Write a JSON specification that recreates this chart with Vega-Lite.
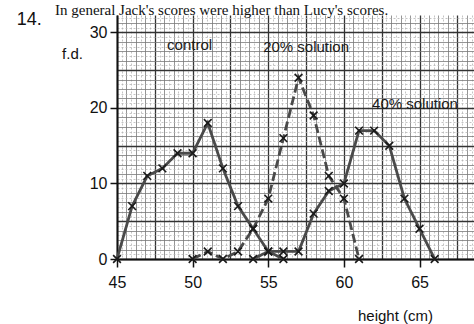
{
  "$schema": "https://vega.github.io/schema/vega-lite/v6.json",
  "width": 357,
  "height": 244,
  "autosize": {"type": "none"},
  "padding": {"left": 117, "top": 15, "right": 0, "bottom": 65},
  "background": "white",
  "config": {
    "view": {"stroke": null},
    "font": "Liberation Sans"
  },
  "datasets": {
    "curves": [
      {"series": "control", "h": 45, "fd": 0},
      {"series": "control", "h": 46, "fd": 7},
      {"series": "control", "h": 47, "fd": 11},
      {"series": "control", "h": 48, "fd": 12},
      {"series": "control", "h": 49, "fd": 14},
      {"series": "control", "h": 50, "fd": 14},
      {"series": "control", "h": 51, "fd": 18},
      {"series": "control", "h": 52, "fd": 12},
      {"series": "control", "h": 53, "fd": 7},
      {"series": "control", "h": 54, "fd": 4},
      {"series": "control", "h": 55, "fd": 1},
      {"series": "control", "h": 56, "fd": 0},
      {"series": "20% solution", "h": 50, "fd": 0},
      {"series": "20% solution", "h": 51, "fd": 1},
      {"series": "20% solution", "h": 52, "fd": 0},
      {"series": "20% solution", "h": 53, "fd": 1},
      {"series": "20% solution", "h": 54, "fd": 4},
      {"series": "20% solution", "h": 55, "fd": 8},
      {"series": "20% solution", "h": 56, "fd": 16},
      {"series": "20% solution", "h": 57, "fd": 24},
      {"series": "20% solution", "h": 58, "fd": 19},
      {"series": "20% solution", "h": 59, "fd": 11},
      {"series": "20% solution", "h": 60, "fd": 8},
      {"series": "20% solution", "h": 61, "fd": 0},
      {"series": "40% solution", "h": 54, "fd": 0},
      {"series": "40% solution", "h": 55, "fd": 1},
      {"series": "40% solution", "h": 56, "fd": 1},
      {"series": "40% solution", "h": 57, "fd": 1},
      {"series": "40% solution", "h": 58, "fd": 6},
      {"series": "40% solution", "h": 59, "fd": 9},
      {"series": "40% solution", "h": 60, "fd": 10},
      {"series": "40% solution", "h": 61, "fd": 17},
      {"series": "40% solution", "h": 62, "fd": 17},
      {"series": "40% solution", "h": 63, "fd": 15},
      {"series": "40% solution", "h": 64, "fd": 8},
      {"series": "40% solution", "h": 65, "fd": 4},
      {"series": "40% solution", "h": 66, "fd": 0}
    ],
    "labels": [
      {"label": "control", "h": 49.8, "fd": 28.3},
      {"label": "20% solution", "h": 57.5, "fd": 28.1},
      {"label": "40% solution", "h": 64.7, "fd": 20.5}
    ],
    "number": [
      {"label": "14.", "h": 39.2, "fd": 31.6}
    ],
    "header": [
      {"label": "In general Jack's scores were higher than Lucy's scores.", "h": 40.9, "fd": 32.3}
    ]
  },
  "encoding": {
    "x": {
      "field": "h",
      "type": "quantitative",
      "scale": {"domain": [45, 68.6], "nice": false, "zero": false},
      "axis": {
        "values": [45, 45.3125, 45.625, 45.9375, 46.25, 46.5625, 46.875, 47.1875, 47.5, 47.8125, 48.125, 48.4375, 48.75, 49.0625, 49.375, 49.6875,
                   50, 50.3125, 50.625, 50.9375, 51.25, 51.5625, 51.875, 52.1875, 52.5, 52.8125, 53.125, 53.4375, 53.75, 54.0625, 54.375, 54.6875,
                   55, 55.3125, 55.625, 55.9375, 56.25, 56.5625, 56.875, 57.1875, 57.5, 57.8125, 58.125, 58.4375, 58.75, 59.0625, 59.375, 59.6875,
                   60, 60.3125, 60.625, 60.9375, 61.25, 61.5625, 61.875, 62.1875, 62.5, 62.8125, 63.125, 63.4375, 63.75, 64.0625, 64.375, 64.6875,
                   65, 65.3125, 65.625, 65.9375, 66.25, 66.5625, 66.875, 67.1875, 67.5, 67.8125, 68.125, 68.4375],
        "grid": true,
        "gridColor": {"condition": [{"test": "datum.value % 2.5 === 0", "value": "#333333"}, {"test": "datum.value % 0.625 === 0", "value": "#7a7a7a"}], "value": "#b5b5b5"},
        "gridWidth": {"condition": {"test": "datum.value % 2.5 === 0", "value": 1.3}, "value": 0.8},
        "gridDash": {"condition": {"test": "datum.value % 0.625 !== 0", "value": [2, 2]}, "value": []},
        "labelExpr": "datum.value % 5 === 0 ? format(datum.value, 'd') : ''",
        "labelOverlap": false,
        "labelFlush": false,
        "labelFontSize": 16,
        "labelColor": "#111",
        "labelPadding": 7,
        "tickOpacity": {"condition": {"test": "datum.value % 5 === 0", "value": 1}, "value": 0},
        "tickSize": 8,
        "tickWidth": 1.5,
        "tickColor": "#111",
        "domainColor": "#111",
        "domainWidth": 2.2,
        "title": "height (cm)",
        "titleFontSize": 15,
        "titleFontWeight": "normal",
        "titleColor": "#111",
        "titleAlign": "center",
        "titleBaseline": "middle",
        "titleX": 278,
        "titleY": 56
      }
    },
    "y": {
      "field": "fd",
      "type": "quantitative",
      "scale": {"domain": [0, 32.3], "nice": false, "zero": false},
      "axis": {
        "values": [0, 0.625, 1.25, 1.875, 2.5, 3.125, 3.75, 4.375,
                   5, 5.625, 6.25, 6.875, 7.5, 8.125, 8.75, 9.375,
                   10, 10.625, 11.25, 11.875, 12.5, 13.125, 13.75, 14.375,
                   15, 15.625, 16.25, 16.875, 17.5, 18.125, 18.75, 19.375,
                   20, 20.625, 21.25, 21.875, 22.5, 23.125, 23.75, 24.375,
                   25, 25.625, 26.25, 26.875, 27.5, 28.125, 28.75, 29.375,
                   30, 30.625, 31.25, 31.875],
        "grid": true,
        "gridColor": {"condition": [{"test": "datum.value % 5 === 0", "value": "#333333"}, {"test": "datum.value % 1.25 === 0", "value": "#7a7a7a"}], "value": "#b5b5b5"},
        "gridWidth": {"condition": {"test": "datum.value % 5 === 0", "value": 1.3}, "value": 0.8},
        "gridDash": {"condition": {"test": "datum.value % 1.25 !== 0", "value": [2, 2]}, "value": []},
        "labelExpr": "datum.value % 10 === 0 ? format(datum.value, 'd') : ''",
        "labelOverlap": false,
        "labelFlush": false,
        "labelFontSize": 16,
        "labelColor": "#111",
        "labelPadding": 3,
        "tickOpacity": {"condition": {"test": "datum.value % 10 === 0", "value": 1}, "value": 0},
        "tickSize": 7,
        "tickWidth": 1.5,
        "tickColor": "#111",
        "domainColor": "#111",
        "domainWidth": 2,
        "title": "f.d.",
        "titleAngle": 0,
        "titleFontSize": 15,
        "titleFontWeight": "normal",
        "titleColor": "#111",
        "titleAlign": "center",
        "titleBaseline": "middle",
        "titleX": -45,
        "titleY": 38
      }
    }
  },
  "layer": [
    {
      "data": {"name": "curves"},
      "mark": {"type": "line", "stroke": "#4a4a4a", "strokeWidth": 2.8},
      "encoding": {
        "detail": {"field": "series"},
        "strokeDash": {
          "field": "series",
          "scale": {"domain": ["control", "20% solution", "40% solution"], "range": [[1, 0], [9, 4], [1, 0]]},
          "legend": null
        }
      }
    },
    {
      "data": {"name": "curves"},
      "mark": {"type": "point", "shape": "M-1,-1L1,1M1,-1L-1,1", "filled": false, "stroke": "#1a1a1a", "strokeWidth": 1.6, "size": 60, "opacity": 1}
    },
    {
      "data": {"name": "labels"},
      "mark": {"type": "text", "fontSize": 15, "color": "#1a1a1a", "align": "center", "baseline": "middle"},
      "encoding": {"text": {"field": "label"}}
    },
    {
      "data": {"name": "number"},
      "mark": {"type": "text", "fontSize": 18, "color": "#111", "align": "center", "baseline": "middle"},
      "encoding": {"text": {"field": "label"}}
    },
    {
      "data": {"name": "header"},
      "mark": {"type": "text", "font": "Liberation Serif", "fontSize": 15, "color": "#111", "align": "left", "baseline": "alphabetic"},
      "encoding": {"text": {"field": "label"}}
    }
  ]
}
